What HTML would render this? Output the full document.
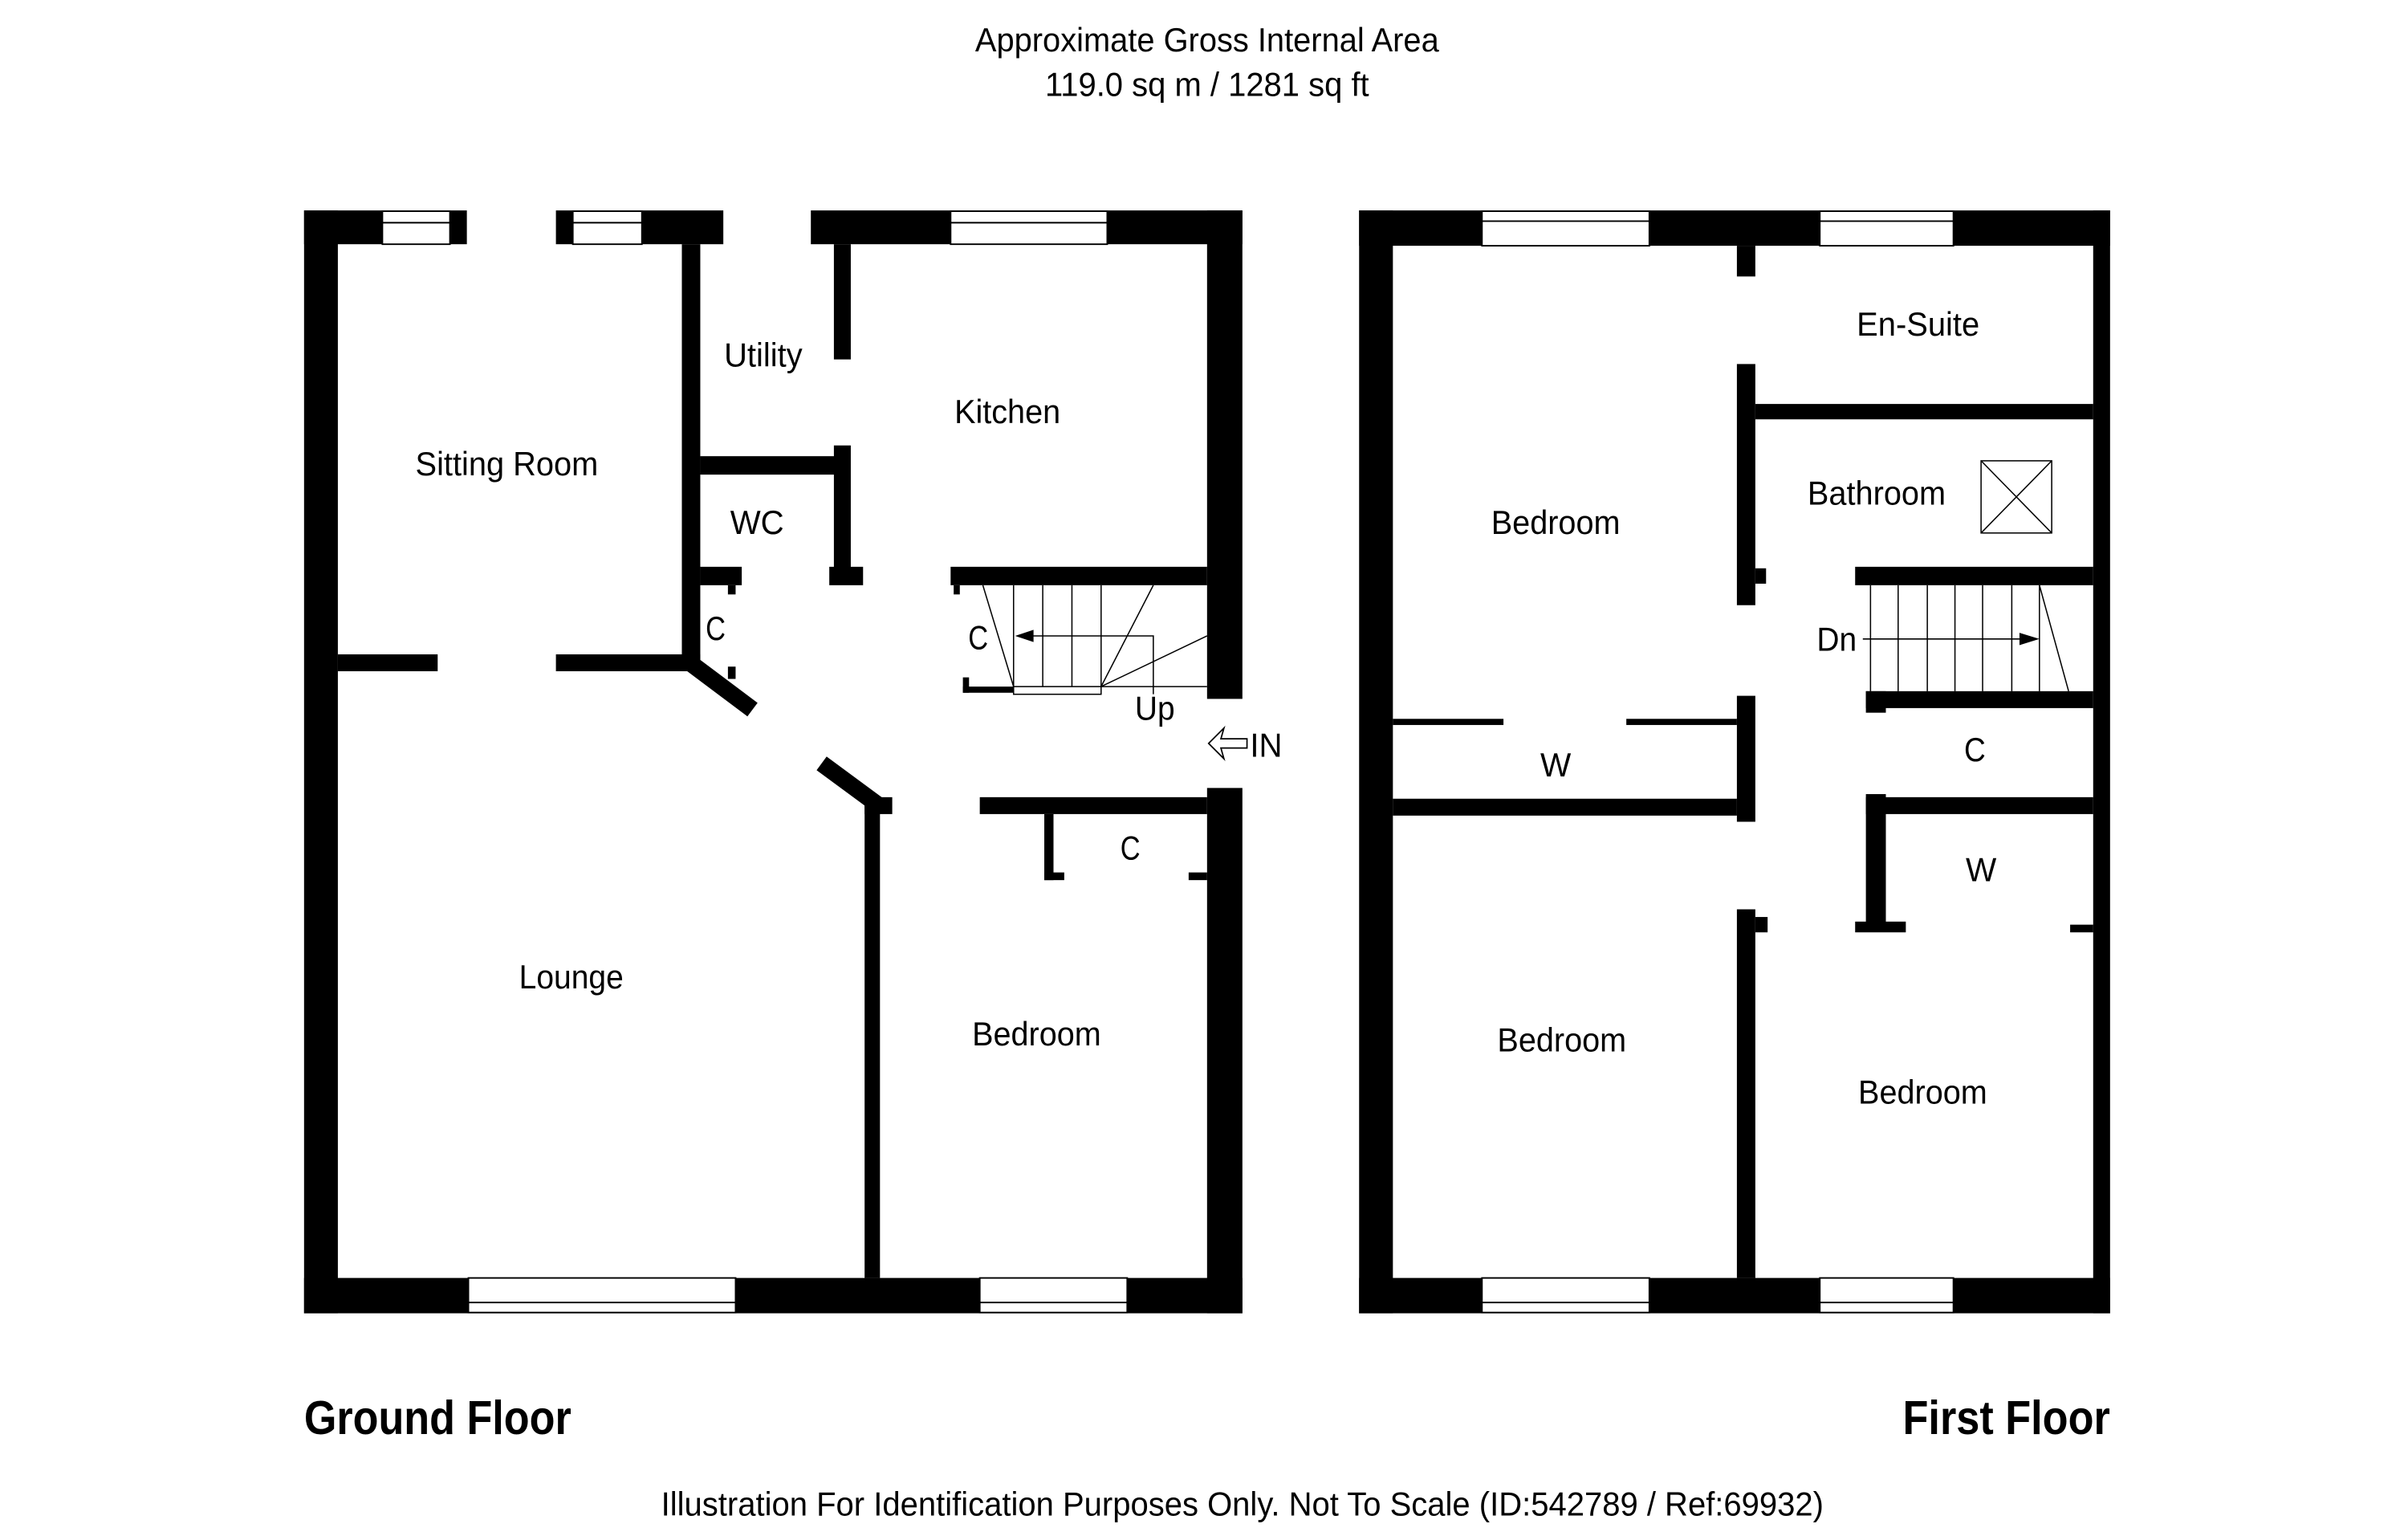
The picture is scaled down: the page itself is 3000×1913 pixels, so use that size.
<!DOCTYPE html>
<html><head><meta charset="utf-8"><style>html,body{margin:0;padding:0;background:#fff}svg{display:block}</style></head>
<body>
<svg xmlns="http://www.w3.org/2000/svg" width="3000" height="1913" viewBox="0 0 1568 1000" preserveAspectRatio="none" font-family="'Liberation Sans', sans-serif">
<rect x="0" y="0" width="1568" height="1000" fill="#fff"/>
<g fill="#000" font-size="22" dominant-baseline="central" text-anchor="middle">
<text x="786" y="26" textLength="302" lengthAdjust="spacingAndGlyphs">Approximate Gross Internal Area</text>
<text x="786" y="55" textLength="211" lengthAdjust="spacingAndGlyphs">119.0 sq m / 1281 sq ft</text>
<text x="809" y="979" textLength="757" lengthAdjust="spacingAndGlyphs">Illustration For Identification Purposes Only. Not To Scale (ID:542789 / Ref:69932)</text>
<text x="285" y="923" font-size="31" font-weight="bold" textLength="174" lengthAdjust="spacingAndGlyphs">Ground Floor</text>
<text x="1306.5" y="923" font-size="31" font-weight="bold" textLength="135" lengthAdjust="spacingAndGlyphs">First Floor</text>
</g>

<g fill="#000">
<rect x="198" y="137" width="22" height="718"/>
<rect x="198" y="137" width="106" height="22"/>
<rect x="362" y="137" width="109" height="22"/>
<rect x="528" y="137" width="281" height="22"/>
<rect x="786" y="137" width="23" height="318"/>
<rect x="786" y="513" width="23" height="342"/>
<rect x="198" y="832" width="611" height="23"/>
<rect x="444" y="159" width="12" height="278"/>
<rect x="220" y="426" width="65" height="11"/>
<rect x="362" y="426" width="94" height="11"/>
<line x1="450" y1="432" x2="490" y2="462" stroke="#000" stroke-width="11"/>
<rect x="474" y="434" width="5" height="8"/>
<rect x="474" y="381" width="5" height="6"/>
<rect x="456" y="297" width="92" height="12"/>
<rect x="543" y="159" width="11" height="75"/>
<rect x="543" y="290" width="11" height="84"/>
<rect x="540" y="369" width="22" height="12"/>
<rect x="456" y="369" width="27" height="12"/>
<rect x="619" y="369" width="167" height="12"/>
<rect x="621" y="381" width="4" height="6"/>
<rect x="627" y="441" width="4" height="10"/>
<rect x="627" y="447" width="33" height="4"/>
<line x1="535" y1="497" x2="573" y2="525" stroke="#000" stroke-width="11"/>
<rect x="563" y="519" width="18" height="11"/>
<rect x="563" y="519" width="10" height="313"/>
<rect x="638" y="519" width="148" height="11"/>
<rect x="680" y="530" width="6" height="43"/>
<rect x="680" y="568" width="13" height="5"/>
<rect x="774" y="568" width="12" height="5"/>
</g>
<g fill="#fff" stroke="#000" stroke-width="1">
<rect x="249" y="137.5" width="44" height="21.5"/><line x1="249" y1="145" x2="293" y2="145"/>
<rect x="373" y="137.5" width="45" height="21.5"/><line x1="373" y1="145" x2="418" y2="145"/>
<rect x="619" y="137.5" width="102" height="21.5"/><line x1="619" y1="145" x2="721" y2="145"/>
<rect x="305" y="832" width="174" height="22.5"/><line x1="305" y1="848" x2="479" y2="848"/>
<rect x="638" y="832" width="96" height="22.5"/><line x1="638" y1="848" x2="734" y2="848"/>
</g>
<g stroke="#000" stroke-width="0.8" fill="none">
<line x1="660" y1="381" x2="660" y2="447"/>
<line x1="679" y1="381" x2="679" y2="447"/>
<line x1="698" y1="381" x2="698" y2="447"/>
<line x1="717" y1="381" x2="717" y2="447"/>
<rect x="660" y="447" width="57" height="5"/>
<line x1="717" y1="447" x2="786" y2="447"/>
<polyline points="672,414 751,414 751,452"/>
<line x1="640" y1="381" x2="660" y2="447"/>
<line x1="751" y1="381" x2="717" y2="447"/>
<line x1="786" y1="414" x2="717" y2="447"/>
</g>
<polygon points="661,414 673,410 673,418" fill="#000"/>
<g fill="none" stroke="#000" stroke-width="0.9">
<polygon points="787,484 797,474 795,481 812,481 812,487 795,487 797,494"/>
</g>
<g fill="#000" font-size="22" dominant-baseline="central" text-anchor="middle">
<text x="330" y="302" textLength="119" lengthAdjust="spacingAndGlyphs">Sitting Room</text>
<text x="497" y="231" textLength="51" lengthAdjust="spacingAndGlyphs">Utility</text>
<text x="656" y="268" textLength="69" lengthAdjust="spacingAndGlyphs">Kitchen</text>
<text x="493" y="340" textLength="35" lengthAdjust="spacingAndGlyphs">WC</text>
<text x="466" y="409" textLength="13" lengthAdjust="spacingAndGlyphs">C</text>
<text x="637" y="415" textLength="13" lengthAdjust="spacingAndGlyphs">C</text>
<text x="752" y="461" textLength="26" lengthAdjust="spacingAndGlyphs">Up</text>
<text x="824.5" y="485" textLength="21" lengthAdjust="spacingAndGlyphs">IN</text>
<text x="372" y="636" textLength="68" lengthAdjust="spacingAndGlyphs">Lounge</text>
<text x="675" y="673" textLength="84" lengthAdjust="spacingAndGlyphs">Bedroom</text>
<text x="736" y="552" textLength="13" lengthAdjust="spacingAndGlyphs">C</text>
</g>

<g fill="#000">
<rect x="885" y="137" width="22" height="718"/>
<rect x="885" y="137" width="489" height="23"/>
<rect x="1363" y="137" width="11" height="718"/>
<rect x="885" y="832" width="489" height="23"/>
<rect x="1131" y="160" width="12" height="20"/>
<rect x="1131" y="237" width="12" height="157"/>
<rect x="1143" y="370" width="7" height="10"/>
<rect x="1131" y="453" width="12" height="82"/>
<rect x="1131" y="592" width="12" height="240"/>
<rect x="1143" y="597" width="8" height="10"/>
<rect x="1143" y="263" width="220" height="10"/>
<rect x="1208" y="369" width="155" height="12"/>
<rect x="1215" y="450" width="148" height="11"/>
<rect x="1215" y="450" width="13" height="14"/>
<rect x="1215" y="519" width="148" height="11"/>
<rect x="1215" y="517" width="13" height="88"/>
<rect x="1208" y="600" width="33" height="7"/>
<rect x="1348" y="602" width="15" height="5"/>
<rect x="907" y="468" width="72" height="4"/>
<rect x="1059" y="468" width="72" height="4"/>
<rect x="907" y="520" width="224" height="11"/>
</g>
<g fill="#fff" stroke="#000" stroke-width="1">
<rect x="965" y="137.5" width="109" height="22.5"/><line x1="965" y1="144" x2="1074" y2="144"/>
<rect x="1185" y="137.5" width="87" height="22.5"/><line x1="1185" y1="144" x2="1272" y2="144"/>
<rect x="965" y="832" width="109" height="22.5"/><line x1="965" y1="848" x2="1074" y2="848"/>
<rect x="1185" y="832" width="87" height="22.5"/><line x1="1185" y1="848" x2="1272" y2="848"/>
</g>
<g stroke="#000" stroke-width="0.8" fill="none">
<rect x="1290" y="300" width="46" height="47"/>
<line x1="1290" y1="300" x2="1336" y2="347"/>
<line x1="1336" y1="300" x2="1290" y2="347"/>
<line x1="1218" y1="381" x2="1218" y2="450"/>
<line x1="1236" y1="381" x2="1236" y2="450"/>
<line x1="1255" y1="381" x2="1255" y2="450"/>
<line x1="1273" y1="381" x2="1273" y2="450"/>
<line x1="1291" y1="381" x2="1291" y2="450"/>
<line x1="1310" y1="381" x2="1310" y2="450"/>
<line x1="1328" y1="381" x2="1328" y2="450"/>
<line x1="1213" y1="416" x2="1318" y2="416"/>
<line x1="1328" y1="381" x2="1347" y2="450"/>
</g>
<polygon points="1328,416 1315,412 1315,420" fill="#000"/>
<g fill="#000" font-size="22" dominant-baseline="central" text-anchor="middle">
<text x="1013" y="340" textLength="84" lengthAdjust="spacingAndGlyphs">Bedroom</text>
<text x="1249" y="211" textLength="80" lengthAdjust="spacingAndGlyphs">En-Suite</text>
<text x="1222" y="321" textLength="90" lengthAdjust="spacingAndGlyphs">Bathroom</text>
<text x="1196" y="416" textLength="26" lengthAdjust="spacingAndGlyphs">Dn</text>
<text x="1286" y="488" textLength="14" lengthAdjust="spacingAndGlyphs">C</text>
<text x="1013" y="498" textLength="20" lengthAdjust="spacingAndGlyphs">W</text>
<text x="1290" y="566" textLength="20" lengthAdjust="spacingAndGlyphs">W</text>
<text x="1017" y="677" textLength="84" lengthAdjust="spacingAndGlyphs">Bedroom</text>
<text x="1252" y="711" textLength="84" lengthAdjust="spacingAndGlyphs">Bedroom</text>
</g>
</svg>
</body></html>
